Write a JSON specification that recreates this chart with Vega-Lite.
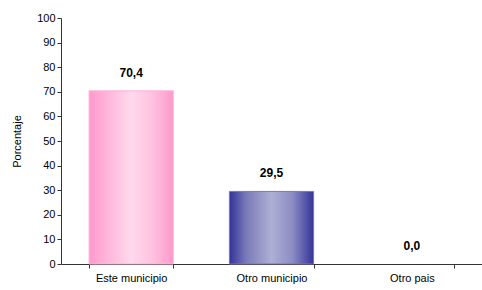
{
  "$schema": "https://vega.github.io/schema/vega-lite/v6.json",
  "width": 421,
  "height": 246,
  "padding": {"left": 61, "top": 18, "right": 0, "bottom": 26},
  "autosize": {"type": "none"},
  "background": "white",
  "config": {
    "view": {"stroke": null},
    "font": "Liberation Sans",
    "axis": {"labelFont": "Liberation Sans", "titleFont": "Liberation Sans", "domainColor": "#333333", "tickColor": "#333333", "labelColor": "#000000", "titleColor": "#000000", "grid": false}
  },
  "data": {"values": [
    {"lugar": "Este municipio", "pct": 70.4, "label": "70,4"},
    {"lugar": "Otro  municipio", "pct": 29.5, "label": "29,5"},
    {"lugar": "Otro pais", "pct": 0.0, "label": "0,0"}
  ]},
  "encoding": {
    "x": {"field": "lugar", "type": "nominal", "sort": null,
      "scale": {"paddingInner": 0.4, "paddingOuter": 0.2},
      "axis": {"title": null, "labelAngle": 0, "labelFontSize": 11, "tickBand": "extent", "tickSize": 4, "labelPadding": 4, "domainWidth": 1}},
    "y": {"field": "pct", "type": "quantitative",
      "scale": {"domain": [0, 100]},
      "axis": {"title": "Porcentaje", "titleFontSize": 11, "titleFontWeight": "normal", "titlePadding": 14, "values": [0,10,20,30,40,50,60,70,80,90,100], "labelFontSize": 11, "tickSize": 4, "labelPadding": 2}}
  },
  "layer": [
    {
      "transform": [{"filter": "datum.lugar == 'Este municipio'"}],
      "mark": {"type": "bar", "stroke": "#FFB3D9", "strokeWidth": 1,
        "color": {"gradient": "linear", "x1": 0, "y1": 0, "x2": 1, "y2": 0,
          "stops": [{"offset": 0, "color": "#FF99CC"}, {"offset": 0.2, "color": "#FFB3D9"}, {"offset": 0.5, "color": "#FFD9EC"}, {"offset": 0.75, "color": "#FFC2E0"}, {"offset": 1, "color": "#FF99CC"}]}}
    },
    {
      "transform": [{"filter": "datum.lugar == 'Otro  municipio'"}],
      "mark": {"type": "bar", "stroke": "#7777BB", "strokeWidth": 1,
        "color": {"gradient": "linear", "x1": 0, "y1": 0, "x2": 1, "y2": 0,
          "stops": [{"offset": 0, "color": "#333399"}, {"offset": 0.2, "color": "#7A7AB8"}, {"offset": 0.5, "color": "#AFAFD6"}, {"offset": 0.75, "color": "#8C8CC4"}, {"offset": 1, "color": "#333399"}]}}
    },
    {
      "mark": {"type": "text", "dy": -11, "fontSize": 12, "fontWeight": "bold", "color": "#000000", "baseline": "bottom"},
      "encoding": {"text": {"field": "label"}}
    }
  ]
}
